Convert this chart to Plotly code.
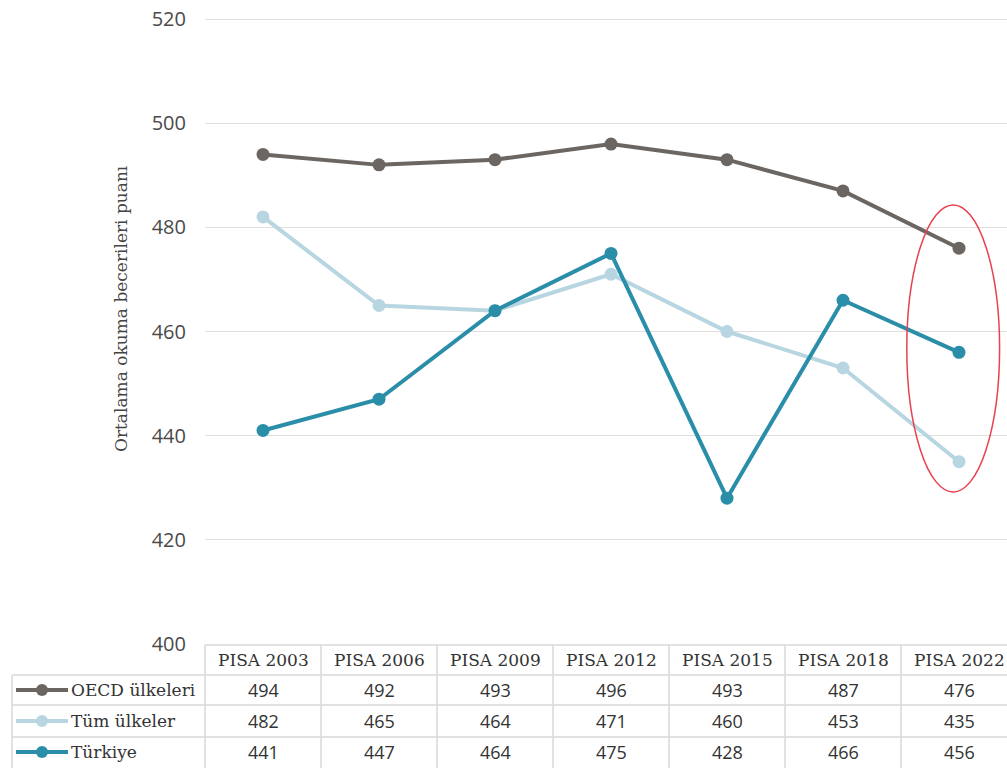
import plotly.graph_objects as go

categories = ["PISA 2003", "PISA 2006", "PISA 2009", "PISA 2012", "PISA 2015", "PISA 2018", "PISA 2022"]
oecd = [494, 492, 493, 496, 493, 487, 476]
tum = [482, 465, 464, 471, 460, 453, 435]
turkiye = [441, 447, 464, 475, 428, 466, 456]
series_names = ["OECD ülkeleri", "Tüm ülkeler", "Türkiye"]
series_values = [oecd, tum, turkiye]
colors = ["#6b6661", "#b7d6e1", "#2b8ea9"]
y_ticks = [400, 420, 440, 460, 480, 500, 520]

W, H = 1007, 768
Y_TOP = 520.2
PX_PER_UNIT = 625 / 120
L, R = 205, 0
B = H - 644
T = 19 - (Y_TOP - 520) * PX_PER_UNIT
PW = W - L - R
PH = H - T - B


def px(x):
    return (x - L) / PW


def py(y):
    return (H - B - y) / PH


fig = go.Figure()
xs = list(range(len(categories)))
for name, vals, col in zip(series_names, series_values, colors):
    fig.add_trace(go.Scatter(x=xs, y=vals, name=name, mode="lines+markers",
                             line=dict(color=col, width=4),
                             marker=dict(color=col, size=13), showlegend=False))

col_w = 116
fig.update_layout(
    width=W, height=H, margin=dict(l=L, r=R, t=T, b=B),
    paper_bgcolor="white", plot_bgcolor="white",
    xaxis=dict(range=[-0.5, -0.5 + PW / col_w], showgrid=False, zeroline=False,
               showticklabels=False, showline=False),
    yaxis=dict(range=[400, Y_TOP], tickvals=y_ticks, showgrid=True, gridcolor="#e0dede",
               gridwidth=1, zeroline=False, showline=False, ticklabeloverflow="allow",
               tickfont=dict(family="Open Sans", size=20, color="#4a4a4a"),
               ticks="outside", ticklen=14, tickcolor="rgba(0,0,0,0)"),
)

# y-axis title
fig.add_annotation(x=px(121), y=py(309), xref="paper", yref="paper",
                   xanchor="center", yanchor="middle",
                   text="Ortalama okuma becerileri puanı", textangle=-90, showarrow=False,
                   font=dict(family="DejaVu Serif", size=17, color="#444"))

# red ellipse around PISA 2022
fig.add_shape(type="circle", xref="x", yref="y", x0=5.55, x1=6.35, y0=429.2, y1=484.3,
              line=dict(color="#e8414f", width=1.5))

# table
line_col = "#d9d9d9"
row_y = [645, 675, 705, 737, 768]
text_y = [660, 690, 721, 752]
fig.add_shape(type="line", xref="paper", yref="paper", x0=px(205), x1=px(1007),
              y0=py(645), y1=py(645), line=dict(color=line_col, width=1.5))
for yy in row_y[1:-1]:
    fig.add_shape(type="line", xref="paper", yref="paper", x0=px(12), x1=px(1007),
                  y0=py(yy), y1=py(yy), line=dict(color=line_col, width=1.5))
fig.add_shape(type="line", xref="paper", yref="paper", x0=px(12), x1=px(12),
              y0=py(675), y1=py(768), line=dict(color=line_col, width=1.5))
for i in range(len(categories)):
    xx = 205 + i * col_w
    fig.add_shape(type="line", xref="paper", yref="paper", x0=px(xx), x1=px(xx),
                  y0=py(645), y1=py(768), line=dict(color=line_col, width=1.5))

text_font = dict(family="DejaVu Serif", size=17, color="#333")
num_font = dict(family="Open Sans", size=18, color="#333")
for i, c in enumerate(categories):
    cx = 205 + i * col_w + col_w / 2
    fig.add_annotation(x=px(cx), y=py(text_y[0]), xref="paper", yref="paper", text=c,
                       xanchor="center", yanchor="middle",
                       showarrow=False, font=text_font)
    for r, vals in enumerate(series_values):
        fig.add_annotation(x=px(cx), y=py(text_y[r + 1]), xref="paper", yref="paper",
                           text=str(vals[i]), xanchor="center", yanchor="middle",
                           showarrow=False, font=num_font)

for r, (name, col) in enumerate(zip(series_names, colors)):
    cy = text_y[r + 1]
    fig.add_shape(type="line", xref="paper", yref="paper", x0=px(16), x1=px(68),
                  y0=py(cy), y1=py(cy), line=dict(color=col, width=4))
    fig.add_shape(type="circle", xref="paper", yref="paper", x0=px(36), x1=px(48),
                  y0=py(cy + 6), y1=py(cy - 6), fillcolor=col, line=dict(color=col, width=0))
    fig.add_annotation(x=px(69), y=py(cy), xref="paper", yref="paper", text=name,
                       showarrow=False, xanchor="left", yanchor="middle", font=text_font)

fig.write_html("out.html", config={"displayModeBar": False},
               post_script="document.body.style.margin='0';document.body.style.overflow='hidden';")
